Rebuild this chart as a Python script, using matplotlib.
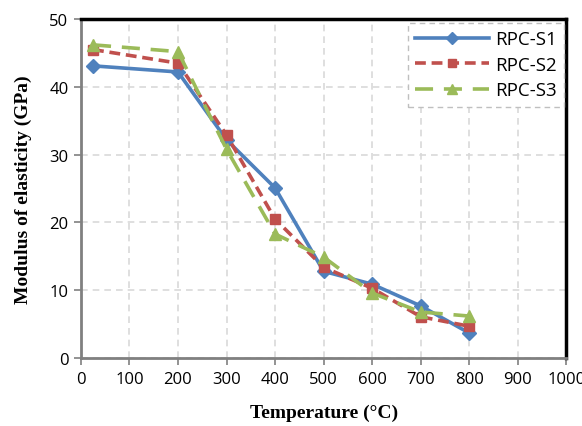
import matplotlib.pyplot as plt

# temperature (deg C) and modulus of elasticity (GPa) per mix
temps = [25, 200, 300, 400, 500, 600, 700, 800]
rpc_s1 = [43.1, 42.2, 32.2, 25.1, 12.8, 10.9, 7.7, 3.7]
rpc_s2 = [45.5, 43.5, 32.9, 20.5, 13.4, 10.3, 6.1, 4.7]
rpc_s3 = [46.2, 45.2, 30.8, 18.3, 14.9, 9.6, 6.8, 6.2]

x_ticks = list(range(0, 1001, 100))
y_ticks = list(range(0, 51, 10))

tick_font = "Open Sans"
label_font = "Liberation Serif"

fig = plt.figure(figsize=(5.82, 4.27), dpi=100)
ax = fig.add_axes([0.139, 0.159, 0.834, 0.794])

ax.plot(temps, rpc_s1, color="#4F81BD", lw=2.6, ls="-", marker="D",
        ms=7, label="RPC-S1", zorder=3)
ax.plot(temps, rpc_s2, color="#C0504D", lw=2.6, ls=(0, (3, 1.6)), marker="s",
        ms=7, label="RPC-S2", zorder=4)
ax.plot(temps, rpc_s3, color="#9BBB59", lw=2.6, ls=(0, (5, 3)), marker="^",
        ms=9, label="RPC-S3", zorder=5)

ax.set_xlim(0, 1000)
ax.set_ylim(0, 50)
ax.set_xticks(x_ticks)
ax.set_yticks(y_ticks)
ax.grid(True, color="#D9D9D9", ls=(0, (4, 3)), lw=1.2)
ax.set_axisbelow(True)

for s in ["top", "right"]:
    ax.spines[s].set_color("black")
    ax.spines[s].set_linewidth(2.5)
for s in ["left", "bottom"]:
    ax.spines[s].set_color("#808080")
    ax.spines[s].set_linewidth(2.0)

ax.tick_params(direction="out", length=5, width=1.2, color="#808080",
               labelsize=12, pad=4)
for lab in ax.get_xticklabels() + ax.get_yticklabels():
    lab.set_fontfamily(tick_font)

ax.set_xlabel("Temperature (°C)", fontfamily=label_font, fontweight="bold",
              fontsize=14, labelpad=12)
ax.set_ylabel("Modulus of elasticity (GPa)", fontfamily=label_font,
              fontweight="bold", fontsize=14, labelpad=12)

leg = ax.legend(loc="upper right", bbox_to_anchor=(1.0, 0.995),
                prop={"family": tick_font, "size": 13.5}, handlelength=3.9,
                fancybox=False, framealpha=1, borderpad=0.4,
                labelspacing=0.4, handletextpad=0.35, borderaxespad=0.1,
                markerscale=0.85)
frame = leg.get_frame()
frame.set_edgecolor("#BFBFBF")
frame.set_linestyle((0, (4, 3)))
frame.set_linewidth(1.0)

fig.savefig("out.png", dpi=100)
